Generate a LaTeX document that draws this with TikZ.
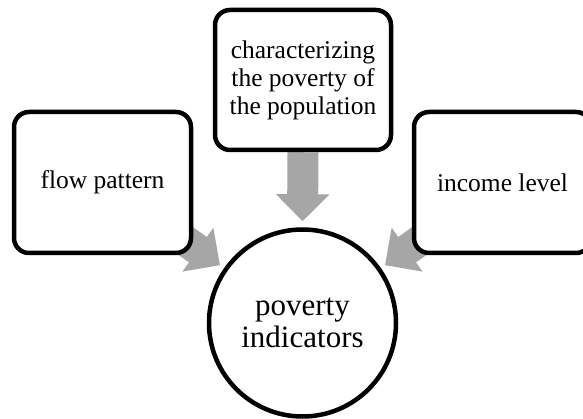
\documentclass[tikz,border=0pt]{standalone}
\usepackage{fontspec}
\setmainfont{Liberation Serif}
\usetikzlibrary{arrows.meta,backgrounds}
\definecolor{arrowgray}{HTML}{A6A6A6}
\tikzset{
  box/.style={draw=black, line width=4.5pt, rounded corners=15pt, fill=white,
    minimum width=177pt, minimum height=141pt, inner sep=0pt, align=center,
    font=\fontsize{25.5}{28}\selectfont},
  bigcirc/.style={draw=black, line width=4.5pt, circle, fill=white,
    minimum size=187pt, inner sep=0pt, align=center,
    font=\fontsize{31}{32}\selectfont},
  flow/.style={draw=arrowgray, line width=31pt,
    -{Triangle[width=52pt,length=27pt]}, arrowgray}
}
\begin{document}
\begin{tikzpicture}[x=1pt,y=-1pt]
\useasboundingbox (0,0) rectangle (583,419);
\node[box] (left) at (102.5,182.5) {flow pattern};
\node[box, minimum width=176pt, minimum height=140pt] (top) at (303,80) {characterizing\\the poverty of\\the population};
\node[box] (right) at (502.5,182.5) {income level};
\node[bigcirc] (circ) at (302.5,323) {poverty\\indicators};
\begin{scope}[on background layer]
\draw[flow, shorten >=6pt] (top.south) -- (circ.north);
\draw[flow, shorten >=5pt] (left.center) -- (circ.145);
\draw[flow, shorten >=5pt] (right.center) -- (circ.35);
\end{scope}
\end{tikzpicture}
\end{document}
